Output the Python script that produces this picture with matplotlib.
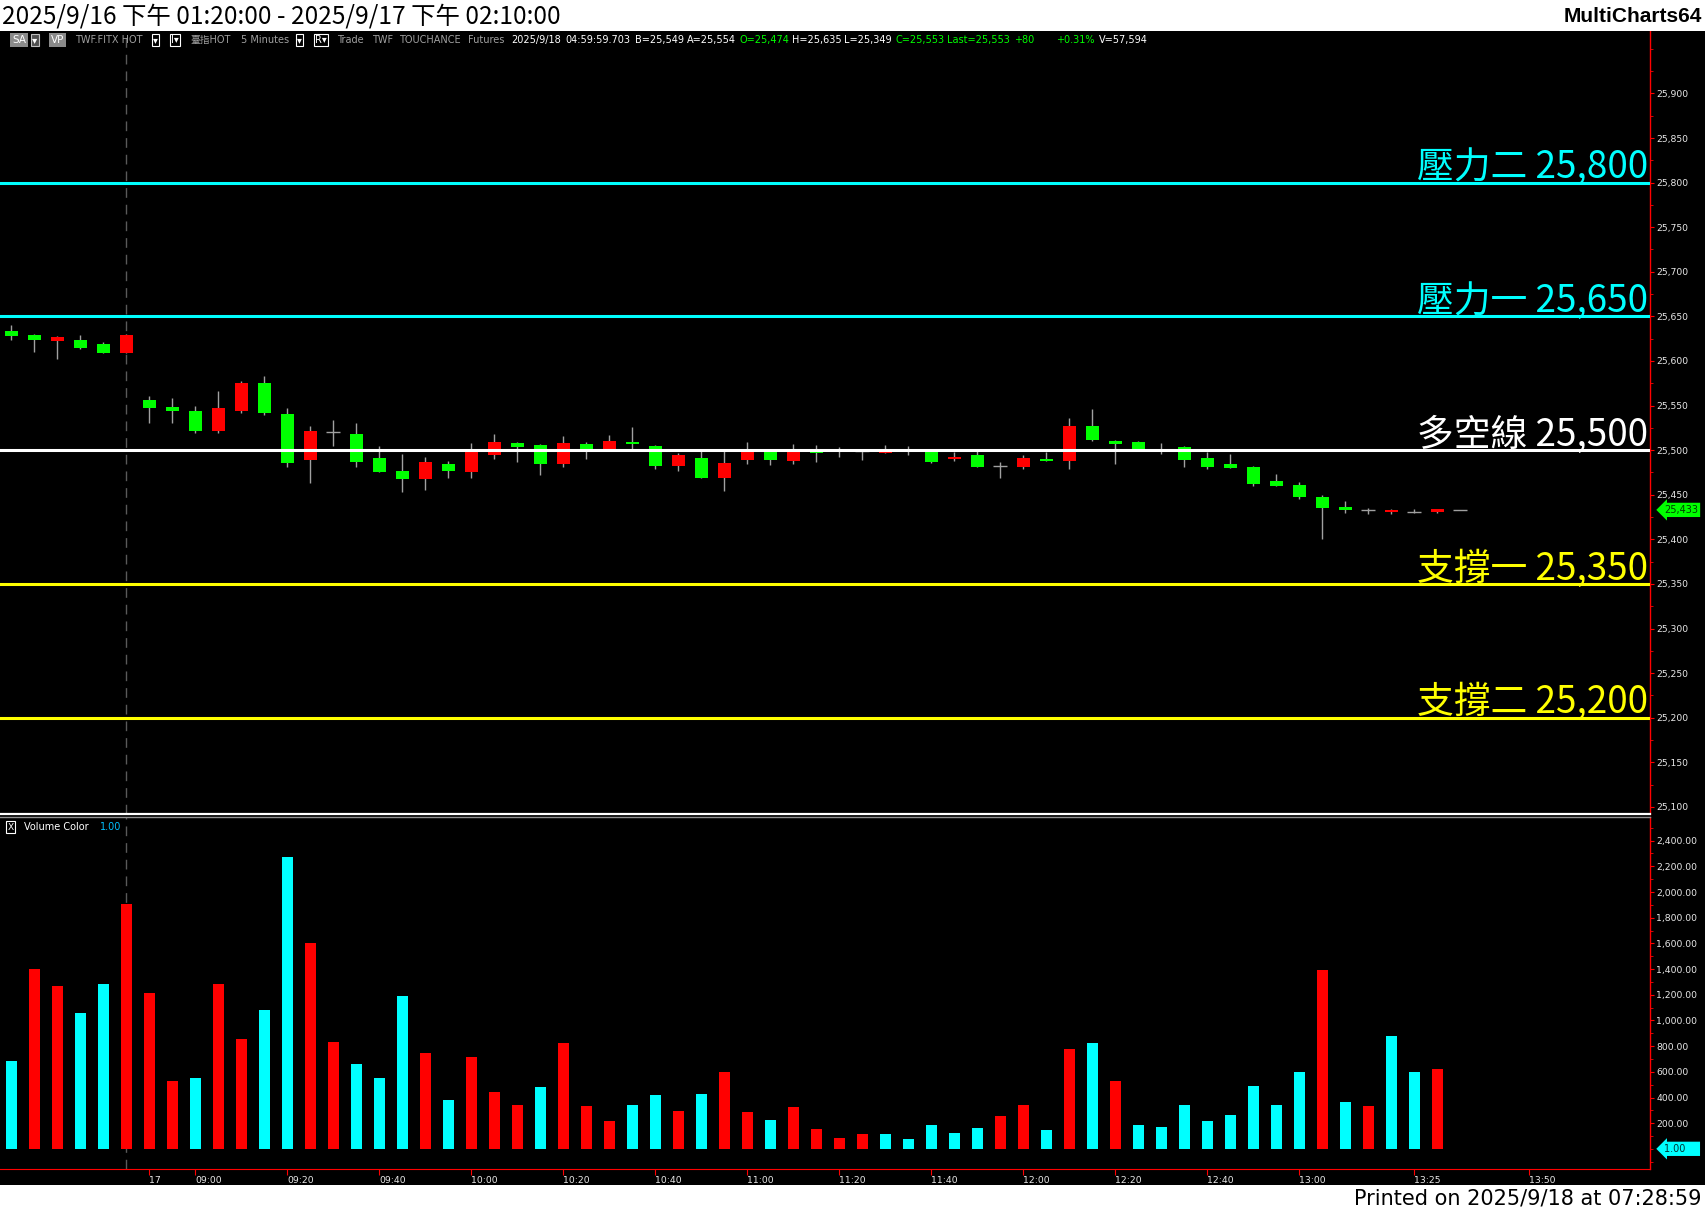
import numpy as np
import pandas as pd
import matplotlib
matplotlib.use('Agg')
import matplotlib.pyplot as plt
import matplotlib.transforms as mtransforms
from matplotlib.patches import Rectangle
from matplotlib.lines import Line2D
from matplotlib.ticker import MultipleLocator, FuncFormatter

plt.rcParams['font.family'] = ['DejaVu Sans', 'Noto Sans CJK TC']

# ---- data (5 minute bars, TX futures) ----
opens = [25634, 25629, 25622, 25624, 25619, 25609, 25556, 25548, 25544, 25521,
         25544, 25575, 25540, 25489, 25520, 25518, 25491, 25477, 25468, 25485,
         25476, 25495, 25508, 25506, 25484, 25507, 25500, 25509, 25505, 25482,
         25491, 25469, 25489, 25499, 25488, 25500, 25500, 25499, 25497, 25500,
         25500, 25490, 25494, 25482, 25481, 25490, 25488, 25527, 25510, 25509,
         25500, 25504, 25491, 25485, 25481, 25465, 25461, 25447, 25436, 25433,
         25431, 25431, 25431, 25433]
highs = [25640, 25630, 25628, 25629, 25621, 25630, 25561, 25558, 25549, 25566,
         25578, 25583, 25547, 25527, 25534, 25530, 25505, 25496, 25492, 25488,
         25508, 25518, 25509, 25507, 25516, 25509, 25517, 25526, 25506, 25497,
         25499, 25499, 25509, 25501, 25507, 25506, 25504, 25500, 25506, 25505,
         25501, 25498, 25499, 25487, 25495, 25498, 25536, 25546, 25511, 25510,
         25508, 25505, 25498, 25496, 25482, 25473, 25464, 25450, 25443, 25435,
         25434, 25434, 25434, 25433]
lows = [25624, 25610, 25602, 25613, 25609, 25609, 25530, 25530, 25519, 25519,
        25542, 25539, 25481, 25463, 25505, 25481, 25475, 25453, 25455, 25469,
        25469, 25490, 25487, 25472, 25481, 25490, 25499, 25501, 25479, 25477,
        25469, 25454, 25485, 25483, 25485, 25487, 25492, 25489, 25497, 25495,
        25486, 25488, 25481, 25469, 25479, 25488, 25479, 25510, 25484, 25500,
        25496, 25481, 25479, 25480, 25460, 25460, 25445, 25400, 25430, 25428,
        25428, 25429, 25430, 25433]
closes = [25628, 25623, 25627, 25615, 25609, 25629, 25547, 25544, 25521, 25547,
          25575, 25542, 25486, 25522, 25520, 25487, 25476, 25468, 25487, 25477,
          25498, 25509, 25504, 25485, 25508, 25500, 25510, 25507, 25482, 25495,
          25469, 25486, 25499, 25489, 25499, 25497, 25500, 25499, 25499, 25500,
          25487, 25492, 25481, 25482, 25491, 25488, 25527, 25511, 25507, 25501,
          25500, 25489, 25481, 25480, 25462, 25460, 25447, 25435, 25433, 25433,
          25433, 25431, 25434, 25433]
volumes = [682, 1401, 1268, 1057, 1284, 1909, 1214, 526, 549, 1284,
           854, 1081, 2276, 1604, 831, 659, 549, 1190, 745, 378,
           714, 440, 346, 479, 823, 331, 214, 346, 417, 299,
           424, 596, 284, 229, 323, 159, 89, 120, 120, 81,
           190, 128, 167, 260, 346, 151, 776, 823, 526, 190,
           174, 346, 221, 268, 487, 339, 596, 1393, 362, 331,
           878, 596, 620, 1]
# volume colour flag: 'c' cyan, 'r' red
volume_flag = list('crrccrrrcrrccrrcccrcrrrcrrrccrc'
                   'rrcrrrrcccccrrcrcrccccccccrcrccrc')

levels = [25800, 25650, 25500, 25350, 25200]
level_names = ['壓力二', '壓力一', '多空線', '支撐一', '支撐二']
level_colors = ['#00ffff', '#00ffff', '#ffffff', '#ffff00', '#ffff00']

xtick_labels = ['17', '09:00', '09:20', '09:40', '10:00', '10:20', '10:40', '11:00',
                '11:20', '11:40', '12:00', '12:20', '12:40', '13:00', '13:25', '13:50']
xtick_times = ['2025-09-17 08:50'] + ['2025-09-17 ' + t for t in xtick_labels[1:]]

last_price = 25433
last_volume = 1

# time slots on the axis (bars + empty space on the right)
slots = pd.date_range('2025-09-16 13:20', '2025-09-16 13:45', freq='5min').append(
    pd.date_range('2025-09-17 08:50', '2025-09-17 14:15', freq='5min'))
xtick_pos = slots.get_indexer(pd.to_datetime(xtick_times))
day_break = 5

# ---- figure in pixel layout ----
W, H = 1705, 1211
fig = plt.figure(figsize=(W / 100, H / 100), dpi=100, facecolor='black')


def px_rect(x0, y0, x1, y1):
    return [x0 / W, 1 - y1 / H, (x1 - x0) / W, (y1 - y0) / H]


def ftext(x, y, s, **kw):
    return fig.text(x / W, 1 - y / H, s, **kw)


fig.add_artist(Rectangle((0, 1 - 31 / H), 1, 31 / H, transform=fig.transFigure,
                         fc='white', ec='none'))
fig.add_artist(Rectangle((0, 0), 1, 26 / H, transform=fig.transFigure,
                         fc='white', ec='none'))

ftext(2, 16, '2025/9/16 下午 01:20:00 - 2025/9/17 下午 02:10:00', fontsize=17.6,
      va='center', color='black', family=['Liberation Sans Narrow', 'Noto Sans CJK TC'])
ftext(1702, 16, 'MultiCharts64', fontsize=15, fontweight='bold', va='center',
      ha='right', color='black', family=['Liberation Sans', 'DejaVu Sans'])
ftext(1702, 1198, 'Printed on 2025/9/18 at 07:28:59', fontsize=15, va='center',
      ha='right', color='black', family=['Liberation Sans Narrow', 'DejaVu Sans'])

ax_p = fig.add_axes(px_rect(0, 31, 1650, 814))
ax_v = fig.add_axes(px_rect(0, 817, 1650, 1169))

x = np.arange(len(closes))
o = np.array(opens)
h = np.array(highs)
l = np.array(lows)
c = np.array(closes)
up = c > o
dn = c < o
flat = c == o

for ax in (ax_p, ax_v):
    ax.set_facecolor('black')
    ax.set_xlim(-0.49, 71.25)
    for s in ('left', 'top'):
        ax.spines[s].set_visible(False)
    ax.spines['right'].set_color('#ff0000')
    ax.spines['right'].set_linewidth(1)
    ax.yaxis.tick_right()
    ax.tick_params(axis='y', which='both', colors='#ff0000', labelcolor='#e8e8e8',
                   labelsize=6.7, pad=1.5)
    ax.tick_params(axis='y', which='major', length=3)
    ax.tick_params(axis='y', which='minor', length=2)
    ax.axvline(day_break, color='#5a5a5a', lw=1, ls=(0, (7, 5)), zorder=1)

# price panel
ax_p.spines['bottom'].set_visible(False)
ax_p.set_ylim(25092, 25970)
ax_p.set_xticks([])
ax_p.yaxis.set_major_locator(MultipleLocator(50))
ax_p.yaxis.set_minor_locator(MultipleLocator(25))
ax_p.yaxis.set_major_formatter(FuncFormatter(lambda v, p: f'{v:,.0f}'))
ax_p.set_yticks([t for t in range(25100, 25901, 50)])

ax_p.vlines(x, l, h, color='#a0a0a0', lw=1, zorder=2)
ax_p.bar(x[up], (c - o)[up], bottom=o[up], width=0.57, color='#ff0000', lw=0, zorder=3)
ax_p.bar(x[dn], (o - c)[dn], bottom=c[dn], width=0.57, color='#00ff00', lw=0, zorder=3)
ax_p.hlines(c[flat], x[flat] - 0.3, x[flat] + 0.3, color='#a0a0a0', lw=1, zorder=3)

trans_p = mtransforms.blended_transform_factory(ax_p.transAxes, ax_p.transData)
for lv, name, col in zip(levels, level_names, level_colors):
    ax_p.axhline(lv, color=col, lw=2.2, zorder=4)
    ax_p.text(0.9988, lv + 5, f'{name} {lv:,}', transform=trans_p, ha='right',
              va='baseline', fontsize=26.5, color=col,
              family=['Noto Sans CJK TC', 'DejaVu Sans'])

ax_p.text(1.0085, last_price, f'{last_price:,}', transform=trans_p, ha='left',
          va='center', fontsize=7, color='#004000', clip_on=False,
          bbox=dict(boxstyle='larrow,pad=0.22', fc='#00ff00', ec='none'))

# volume panel
ax_v.set_ylim(-156, 2584)
ax_v.spines['bottom'].set_color('#ff0000')
ax_v.yaxis.set_major_locator(MultipleLocator(200))
ax_v.yaxis.set_minor_locator(MultipleLocator(100))
ax_v.set_yticks(list(range(200, 2401, 200)))
ax_v.yaxis.set_major_formatter(FuncFormatter(lambda v, p: f'{v:,.2f}'))
vcolors = ['#00ffff' if f == 'c' else '#ff0000' for f in volume_flag]
ax_v.bar(x, volumes, width=0.5, color=vcolors, lw=0, zorder=3)

ax_v.set_xticks(xtick_pos)
ax_v.set_xticklabels(xtick_labels)
for lbl in ax_v.get_xticklabels():
    lbl.set_ha('left')
ax_v.tick_params(axis='x', colors='#ff0000', labelcolor='#e8e8e8', labelsize=6.7,
                 length=4, pad=1)

trans_v = mtransforms.blended_transform_factory(ax_v.transAxes, ax_v.transData)
ax_v.text(1.0085, last_volume, f'{last_volume:.2f}    ', transform=trans_v, ha='left',
          va='center', fontsize=7, color='#003333', clip_on=False,
          bbox=dict(boxstyle='larrow,pad=0.22', fc='#00ffff', ec='none'))

# panel separator
fig.add_artist(Line2D([0, 1650 / W], [1 - 814 / H] * 2, color='white', lw=1.6))
fig.add_artist(Line2D([0, 1650 / W], [1 - 816.5 / H] * 2, color='#909090', lw=1))

# volume legend
ftext(10.5, 827, 'X', fontsize=6.5, color='white', ha='center', va='center',
      bbox=dict(boxstyle='square,pad=0.15', fc='black', ec='white', lw=0.8))
ftext(24, 827, 'Volume Color', fontsize=7, color='white', va='center')
ftext(100, 827, '1.00', fontsize=7, color='#00bfff', va='center')

# toolbar row
grey = '#a0a0a0'
box_kw = dict(boxstyle='square,pad=0.15', fc='black', ec='white', lw=0.8)
ftext(12, 40, 'SA', fontsize=7.5, color='white', va='center',
      bbox=dict(boxstyle='square,pad=0.18', fc='#8a8a8a', ec='none'))
ftext(32, 40, '▾', fontsize=7.5, color='white', va='center',
      bbox=dict(boxstyle='square,pad=0.12', fc='#505050', ec='#c0c0c0', lw=0.8))
ftext(51, 40, 'VP', fontsize=7.5, color='white', va='center',
      bbox=dict(boxstyle='square,pad=0.18', fc='#8a8a8a', ec='none'))
toolbar = [('TWF.FITX HOT', 75, grey), ('臺指HOT', 190, grey), ('5 Minutes', 241, grey),
           ('Trade', 337, grey), ('TWF', 372, grey), ('TOUCHANCE', 399, grey),
           ('Futures', 468, grey), ('2025/9/18', 511, 'white'),
           ('04:59:59.703', 565, 'white'), ('B=25,549', 635, 'white'),
           ('A=25,554', 687, 'white'), ('O=25,474', 740, '#00ff00'),
           ('H=25,635', 792, 'white'), ('L=25,349', 844, 'white'),
           ('C=25,553', 895, '#00ff00'), ('Last=25,553', 947, '#00ff00'),
           ('+80', 1014, '#00ff00'), ('+0.31%', 1056, '#00ff00'),
           ('V=57,594', 1099, 'white')]
for s, xp, col in toolbar:
    ftext(xp, 40, s, fontsize=7, color=col, va='center')
for s, xp in [('▾', 153), ('I▾', 171), ('▾', 297), ('R▾', 315)]:
    ftext(xp, 40, s, fontsize=7, color='white', va='center', bbox=box_kw)

fig.savefig('out.png', dpi=100, facecolor='black')
